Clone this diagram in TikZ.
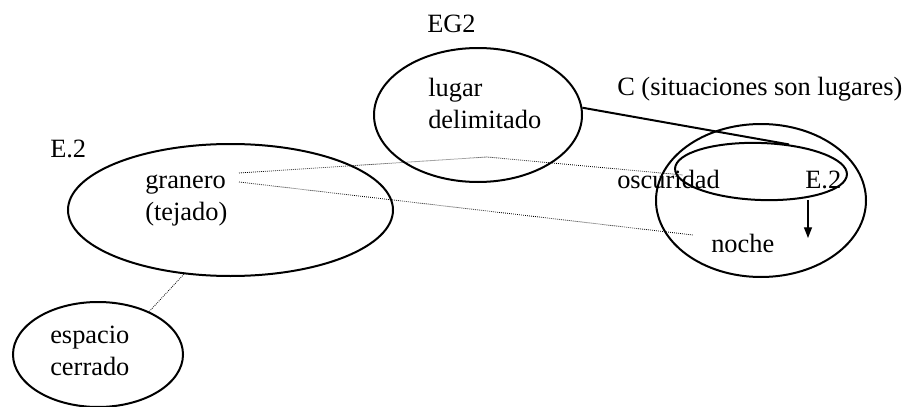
\documentclass[tikz,border=0pt]{standalone}
\usepackage{fontspec}
\setmainfont{Liberation Serif}
\usetikzlibrary{shapes.geometric,arrows.meta}

\tikzset{
  blob/.style={ellipse, draw, line width=1.5pt, inner sep=0pt},
  word/.style={anchor=base west, inner sep=0pt, align=left},
  link/.style={dash pattern=on 0.6pt off 0.9pt, line width=0.6pt},
}

\begin{document}
\begin{tikzpicture}[x=0.75pt, y=-0.75pt, font=\fontsize{19.8}{23.5}\selectfont]
\useasboundingbox (0,0) rectangle (908,407);

\node[blob, minimum width=156pt, minimum height=100.5pt] (eg2) at (478,115) {};
\node[blob, minimum width=157.5pt, minimum height=114.75pt] (cc) at (761,200.5) {};
\node[blob, minimum width=129pt, minimum height=42.75pt, rotate=-2] (osc) at (761,171.5) {};
\node[blob, minimum width=243.75pt, minimum height=99pt] (gra) at (230.5,210) {};
\node[blob, minimum width=127.5pt, minimum height=78.75pt] (esp) at (98,354.5) {};

% multi-line words sit on their last line
\node[word] (labeg2) at (427,32) {EG2};
\node[word] (labc) at (617,95) {C (situaciones son lugares)};
\node[word] (labe2) at (50,157) {E.2};
\node[word] (lugar) at (428,128) {lugar\\delimitado};
\node[word] (granero) at (145,220) {granero\\(tejado)};
\node[word] (oscuridad) at (617,188) {oscuridad};
\node[word] (e2r) at (805,188) {E.2};
\node[word] (noche) at (711,252) {noche};
\node[word] (espacio) at (50,375) {espacio\\cerrado};

\coordinate (g1) at (239,173);
\coordinate (g2) at (239,182);
\coordinate (bend) at (487,157);
\coordinate (o1) at (683,175);
\coordinate (n1) at (693,235);
\coordinate (a1) at (808,200);
\coordinate (a2) at (808,238);

\draw[line width=1.5pt] (eg2.4) -- (osc.46);
\draw[link] (g1) -- (bend) -- (o1);
\draw[link] (g2) -- (n1);
\draw[link] (gra.234) -- (esp.40);
\draw[-{Triangle[length=8pt,width=6pt]}, line width=0.9pt] (a1) -- (a2);
\end{tikzpicture}
\end{document}
